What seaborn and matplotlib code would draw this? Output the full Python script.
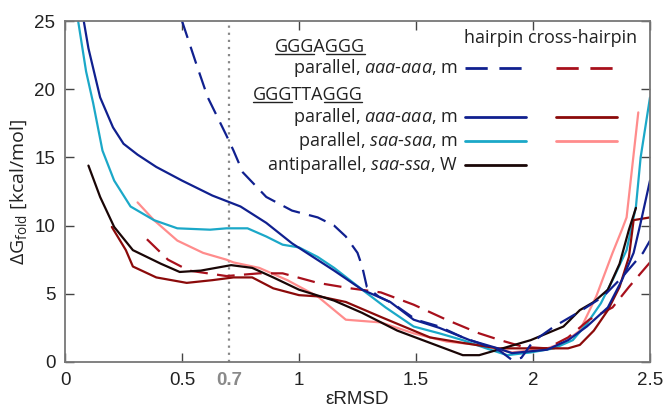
import matplotlib
matplotlib.use('Agg')
import matplotlib.pyplot as plt
import seaborn as sns
import pandas as pd
from matplotlib.lines import Line2D

# GGGAGGG parallel aaa-aaa, hairpin (dashed navy)
gaggg_hp_x = [0.50, 0.56, 0.61, 0.69, 0.72, 0.76, 0.86, 0.97, 1.08, 1.15, 1.20, 1.25, 1.27, 1.29, 1.34, 1.40,
              1.50, 1.60, 1.70, 1.79, 1.86, 1.91, 1.95, 2.00, 2.09, 2.20, 2.30, 2.38, 2.47, 2.50]
gaggg_hp_y = [25.0, 21.9, 19.4, 16.6, 15.5, 13.9, 12.1, 11.1, 10.6, 10.0, 9.2, 8.0, 7.0, 5.5, 4.8, 4.3,
              3.1, 2.6, 1.8, 1.25, 0.8, 0.15, 0.3, 1.5, 2.6, 3.7, 4.8, 6.2, 8.0, 8.9]
# GGGAGGG parallel aaa-aaa, cross-hairpin (dashed red)
gaggg_chp_x = [0.35, 0.44, 0.53, 0.69, 0.83, 0.93, 1.08, 1.22, 1.35, 1.49, 1.63, 1.77, 1.86, 1.96, 2.06,
               2.15, 2.24, 2.34, 2.41, 2.50]
gaggg_chp_y = [9.0, 7.5, 6.7, 6.3, 6.5, 6.5, 5.8, 5.4, 5.1, 4.2, 3.1, 2.1, 1.6, 1.1, 1.0,
               1.8, 3.1, 4.0, 5.5, 7.3]
# GGGTTAGGG parallel aaa-aaa, hairpin (navy)
tta_aaa_hp_x = [0.08, 0.10, 0.15, 0.205, 0.25, 0.31, 0.39, 0.50, 0.63, 0.75, 0.86, 0.97, 1.06, 1.15, 1.27,
                1.39, 1.49, 1.60, 1.73, 1.85, 1.91, 2.06, 2.15, 2.23, 2.32, 2.38, 2.43, 2.46, 2.50]
tta_aaa_hp_y = [25.0, 23.0, 19.4, 17.2, 16.0, 15.2, 14.3, 13.3, 12.2, 11.4, 10.2, 8.7, 7.7, 6.7, 5.3,
                4.4, 3.1, 2.5, 1.6, 1.0, 0.65, 0.9, 1.6, 2.6, 4.0, 6.0, 8.0, 10.2, 13.3]
# GGGTTAGGG parallel aaa-aaa, cross-hairpin (dark red)
tta_aaa_chp_x = [0.20, 0.26, 0.29, 0.39, 0.52, 0.63, 0.72, 0.80, 0.89, 1.00, 1.09, 1.20, 1.35, 1.56, 1.70,
                 1.85, 1.91, 2.06, 2.15, 2.20, 2.26, 2.32, 2.37, 2.41, 2.43, 2.50]
tta_aaa_chp_y = [9.9, 8.2, 7.0, 6.2, 5.8, 6.0, 6.2, 6.2, 5.4, 4.9, 4.8, 4.4, 3.3, 1.8, 1.4,
                 1.0, 1.0, 1.0, 1.0, 1.25, 2.3, 3.8, 5.5, 7.7, 10.4, 10.6]
# GGGTTAGGG parallel saa-saa, hairpin (cyan)
tta_saa_hp_x = [0.056, 0.09, 0.12, 0.16, 0.21, 0.28, 0.38, 0.48, 0.62, 0.69, 0.78, 0.86, 0.93, 1.00, 1.08,
                1.15, 1.27, 1.37, 1.49, 1.60, 1.70, 1.80, 1.89, 1.99, 2.09, 2.17, 2.23, 2.29, 2.34, 2.40,
                2.44, 2.46, 2.50]
tta_saa_hp_y = [25.0, 21.3, 19.0, 15.5, 13.3, 11.4, 10.4, 9.8, 9.7, 9.8, 9.8, 9.2, 8.6, 8.4, 7.7,
                6.9, 5.3, 4.0, 2.6, 2.1, 1.6, 1.0, 0.5, 0.7, 1.0, 1.6, 2.8, 4.3, 6.0, 8.2,
                11.4, 15.0, 19.4]
# GGGTTAGGG parallel saa-saa, cross-hairpin (pink)
tta_saa_chp_x = [0.31, 0.38, 0.48, 0.59, 0.69, 0.72, 0.83, 0.95, 1.08, 1.20, 1.35, 1.49, 1.63, 1.77, 1.91,
                 2.06, 2.13, 2.20, 2.27, 2.34, 2.38, 2.40, 2.45]
tta_saa_chp_y = [11.7, 10.4, 8.9, 8.0, 7.5, 7.3, 6.9, 6.0, 4.8, 3.1, 2.9, 2.1, 1.5, 1.25, 0.7,
                 1.0, 1.4, 2.3, 4.8, 8.0, 9.7, 10.6, 18.3]
# GGGTTAGGG antiparallel saa-ssa, W (black)
tta_anti_x = [0.10, 0.15, 0.21, 0.29, 0.41, 0.49, 0.58, 0.71, 0.80, 0.89, 1.00, 1.15, 1.27, 1.42, 1.56,
              1.70, 1.77, 1.85, 1.99, 2.13, 2.20, 2.26, 2.32, 2.37, 2.41, 2.44]
tta_anti_y = [14.4, 12.1, 9.9, 8.2, 7.2, 6.6, 6.7, 7.1, 6.9, 6.2, 5.3, 4.5, 3.6, 2.3, 1.4,
              0.5, 0.5, 0.9, 1.6, 2.6, 3.8, 4.4, 5.3, 7.2, 9.7, 11.3]

x_ticks = [0, 0.5, 0.7, 1, 1.5, 2, 2.5]
x_ticklabels = ['0', '0.5', '0.7', '1', '1.5', '2', '2.5']
y_ticks = [0, 5, 10, 15, 20, 25]

NAVY = '#10208f'
CYAN = '#1ba8c8'
DRED = '#8b0a0a'
RED = '#a8101c'
PINK = '#ff8c8c'
BLACK = '#1a0606'
DASH = (0, (8, 4.2))
LEG_FS = 13

sns.set_theme(style='ticks')
plt.rcParams['font.family'] = ['Liberation Sans', 'DejaVu Sans']
plt.rcParams['mathtext.fontset'] = 'custom'
plt.rcParams['mathtext.rm'] = 'Open Sans'
plt.rcParams['mathtext.it'] = 'Open Sans:italic'

fig = plt.figure(figsize=(6.67, 4.12), dpi=100)
ax = fig.add_axes([0.0975, 0.1214, 0.877, 0.8276])

series = [
    (tta_saa_chp_x, tta_saa_chp_y, PINK, '-'),
    (tta_saa_hp_x, tta_saa_hp_y, CYAN, '-'),
    (gaggg_chp_x, gaggg_chp_y, RED, DASH),
    (tta_aaa_chp_x, tta_aaa_chp_y, DRED, '-'),
    (tta_anti_x, tta_anti_y, BLACK, '-'),
    (tta_aaa_hp_x, tta_aaa_hp_y, NAVY, '-'),
    (gaggg_hp_x, gaggg_hp_y, NAVY, DASH),
]
for xs, ys, col, ls in series:
    df = pd.DataFrame({'x': xs, 'y': ys})
    sns.lineplot(data=df, x='x', y='y', ax=ax, color=col, linestyle=ls, linewidth=1.6,
                 sort=False, estimator=None)

ax.axvline(0.7, color='#888888', linestyle=(0, (1, 2.2)), linewidth=1.6, zorder=0)

ax.set_xlim(0, 2.5)
ax.set_ylim(0, 25)
ax.set_xticks(x_ticks)
ax.set_xticklabels(x_ticklabels)
ax.set_yticks(y_ticks)
ax.tick_params(direction='in', length=6.5, width=1, color='#444444', labelsize=13.5,
               top=True, right=True, pad=7, labelcolor='#222222')
for t in ax.get_xticklabels():
    if t.get_text() == '0.7':
        t.set_color('#8a8a8a')
        t.set_fontweight('bold')
xt = ax.xaxis.get_major_ticks()
xt[2].tick1line.set_visible(False)
xt[2].tick2line.set_visible(False)
for s in ax.spines.values():
    s.set_color('#777777')
    s.set_linewidth(1.3)

ax.set_xlabel('εRMSD', fontsize=13.5, color='#222222', labelpad=2)
ax.set_ylabel(r'ΔG$_{\rm fold}$ [kcal/mol]', fontsize=14, color='#222222', labelpad=4,
              fontfamily='Open Sans')

# legend drawn as text + sample lines in axes coordinates
tf = ax.transAxes
lab_kw = dict(transform=tf, fontsize=LEG_FS, ha='right', va='center', color='#222222', fontfamily='Open Sans')
ax.text(0.682, 0.950, 'hairpin cross-hairpin', transform=tf, fontsize=LEG_FS, ha='left', va='center',
        color='#222222', fontfamily='Open Sans')
seq_texts = [
    ax.text(0.513, 0.925, 'GGGAGGG', **lab_kw),
    ax.text(0.509, 0.783, 'GGGTTAGGG', **lab_kw),
]
ax.text(0.672, 0.862, r'parallel, $\it aaa$-$\it aaa$, m', **lab_kw)
ax.text(0.672, 0.718, r'parallel, $\it aaa$-$\it aaa$, m', **lab_kw)
ax.text(0.672, 0.648, r'parallel, $\it saa$-$\it saa$, m', **lab_kw)
ax.text(0.672, 0.578, r'antiparallel, $\it saa$-$\it ssa$, W', **lab_kw)

legend_rows = [
    (0.862, NAVY, RED, DASH),
    (0.718, NAVY, DRED, '-'),
    (0.648, CYAN, PINK, '-'),
    (0.578, BLACK, None, '-'),
]
for yy, c1, c2, ls in legend_rows:
    ax.add_line(Line2D([0.684, 0.788], [yy, yy], transform=tf, color=c1, linestyle=ls, linewidth=2))
    if c2 is not None:
        ax.add_line(Line2D([0.839, 0.943], [yy, yy], transform=tf, color=c2, linestyle=ls, linewidth=2))

# underline the GGG tracts
fig.canvas.draw()
rend = fig.canvas.get_renderer()
inv = tf.inverted()
for t in seq_texts:
    bb = t.get_window_extent(rend)
    tmp = ax.text(0, 0, 'GGG', fontsize=LEG_FS, fontfamily='Open Sans', transform=tf)
    w3 = tmp.get_window_extent(rend).width
    tmp.remove()
    ybase = bb.y0 + 2
    for x0 in (bb.x0, bb.x1 - w3):
        (ax0, ay), (ax1, _) = inv.transform([(x0 + 0.5, ybase), (x0 + w3 - 0.5, ybase)])
        ax.add_line(Line2D([ax0, ax1], [ay, ay], transform=tf, color='#222222', linewidth=1.0))

fig.savefig('out.png', dpi=100)
